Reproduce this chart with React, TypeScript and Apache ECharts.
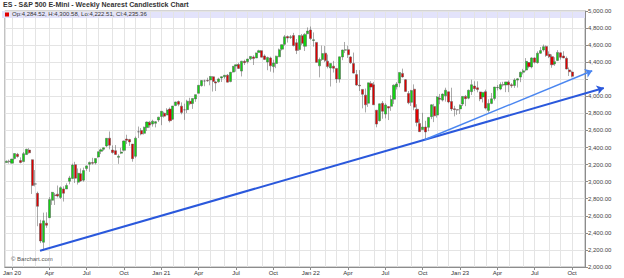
import React, { useEffect, useRef } from 'react';
import * as echarts from 'echarts';

// First weekly bar (Monday of the week) and number of empty future weeks on the axis
const firstWeek = '2019-12-23';
const emptyWeeksAfter = 4;

// Weekly bars: [open, high, low, close]
const ohlc2020 = [
  [3224, 3248, 3222, 3240], [3240, 3258, 3212, 3235], [3217, 3267, 3214, 3265], [3271, 3330, 3262, 3330],
  [3321, 3337, 3281, 3295], [3248, 3285, 3214, 3225], [3235, 3347, 3233, 3328], [3318, 3385, 3315, 3380],
  [3370, 3393, 3328, 3338], [3257, 3260, 2856, 2954], [2974, 3136, 2945, 2972], [2863, 2883, 2478, 2711],
  [2509, 2553, 2280, 2305], [2290, 2637, 2191, 2541], [2514, 2641, 2459, 2489], [2578, 2819, 2574, 2790],
  [2782, 2880, 2728, 2875], [2845, 2868, 2727, 2837], [2854, 2955, 2815, 2831], [2815, 2945, 2798, 2930],
  [2915, 2945, 2767, 2864], [2914, 2981, 2914, 2955], [3005, 3068, 2969, 3044], [3038, 3211, 3032, 3194],
  [3199, 3233, 2984, 3041], [2994, 3155, 2966, 3098], [3094, 3155, 2999, 3009], [3018, 3165, 3000, 3130],
  [3155, 3190, 3128, 3185], [3205, 3236, 3115, 3225], [3224, 3280, 3200, 3216], [3219, 3272, 3202, 3271],
  [3289, 3352, 3280, 3351], [3356, 3388, 3323, 3373], [3380, 3399, 3363, 3397], [3419, 3509, 3404, 3508],
  [3509, 3588, 3379, 3427], [3371, 3425, 3329, 3341], [3363, 3429, 3313, 3319], [3285, 3320, 3209, 3298],
  [3334, 3397, 3323, 3348], [3367, 3482, 3354, 3477], [3500, 3550, 3441, 3484], [3494, 3502, 3419, 3465],
  [3441, 3441, 3234, 3270], [3297, 3529, 3280, 3509], [3584, 3646, 3511, 3585], [3601, 3628, 3543, 3558],
  [3566, 3645, 3552, 3638], [3634, 3705, 3594, 3699], [3694, 3712, 3633, 3663], [3675, 3726, 3645, 3709],
  [3684, 3711, 3636, 3703],
];

const ohlc2021 = [
  [3723, 3760, 3700, 3756], [3764, 3827, 3662, 3825], [3803, 3820, 3751, 3768], [3781, 3861, 3779, 3841],
  [3851, 3870, 3694, 3714], [3732, 3887, 3725, 3887], [3892, 3937, 3885, 3934], [3939, 3951, 3884, 3907],
  [3885, 3929, 3789, 3811], [3842, 3914, 3724, 3842], [3844, 3960, 3805, 3943], [3942, 3983, 3894, 3913],
  [3917, 3978, 3853, 3975], [3970, 4021, 3936, 4020], [4035, 4130, 4035, 4129], [4125, 4191, 4114, 4185],
  [4180, 4195, 4118, 4180], [4185, 4218, 4170, 4181], [4192, 4238, 4129, 4233], [4229, 4237, 4056, 4174],
  [4169, 4183, 4062, 4156], [4170, 4218, 4161, 4204], [4216, 4234, 4168, 4230], [4229, 4249, 4208, 4247],
  [4248, 4262, 4164, 4166], [4173, 4287, 4165, 4281], [4284, 4356, 4279, 4352], [4356, 4372, 4289, 4370],
  [4372, 4393, 4321, 4327], [4296, 4415, 4233, 4412], [4410, 4429, 4367, 4395], [4406, 4440, 4385, 4437],
  [4439, 4470, 4424, 4468], [4462, 4480, 4367, 4442], [4450, 4513, 4450, 4509], [4515, 4546, 4513, 4535],
  [4535, 4536, 4457, 4459], [4474, 4492, 4427, 4433], [4402, 4466, 4306, 4455], [4450, 4465, 4289, 4357],
  [4349, 4429, 4278, 4391], [4385, 4476, 4330, 4471], [4463, 4560, 4460, 4545], [4553, 4608, 4537, 4605],
  [4610, 4719, 4595, 4697], [4701, 4714, 4630, 4683], [4689, 4718, 4672, 4698], [4712, 4744, 4585, 4595],
  [4628, 4672, 4495, 4538], [4548, 4713, 4532, 4712], [4710, 4731, 4600, 4621], [4587, 4740, 4531, 4726],
];

const ohlc2022 = [
  [4733, 4808, 4733, 4766], [4778, 4818, 4662, 4677], [4655, 4749, 4582, 4663], [4632, 4632, 4395, 4398],
  [4357, 4454, 4222, 4432], [4432, 4595, 4414, 4501], [4506, 4590, 4401, 4419], [4412, 4490, 4327, 4349],
  [4332, 4386, 4115, 4385], [4354, 4416, 4279, 4329], [4327, 4327, 4157, 4204], [4202, 4465, 4161, 4463],
  [4462, 4546, 4424, 4543], [4541, 4637, 4507, 4546], [4547, 4593, 4450, 4488], [4462, 4471, 4381, 4393],
  [4385, 4513, 4267, 4272], [4255, 4309, 4124, 4132], [4130, 4308, 4063, 4123], [4081, 4082, 3859, 4024],
  [4014, 4091, 3811, 3901], [3919, 4159, 3876, 4158], [4151, 4178, 4073, 4109], [4135, 4169, 3900, 3901],
  [3838, 3838, 3637, 3675], [3715, 3914, 3705, 3912], [3920, 3946, 3738, 3825], [3792, 3919, 3742, 3899],
  [3880, 3880, 3722, 3863], [3883, 4013, 3830, 3962], [3966, 4140, 3911, 4130], [4112, 4167, 4080, 4145],
  [4155, 4280, 4107, 4280], [4269, 4325, 4219, 4228], [4195, 4203, 4057, 4058], [4034, 4062, 3907, 3924],
  [3930, 4076, 3887, 4067], [4084, 4140, 3837, 3873], [3849, 3907, 3648, 3693], [3682, 3736, 3584, 3586],
  [3610, 3807, 3604, 3640], [3640, 3713, 3491, 3583], [3637, 3758, 3591, 3753], [3762, 3906, 3733, 3901],
  [3882, 3912, 3698, 3771], [3780, 4001, 3751, 3993], [3977, 4028, 3907, 3965], [3956, 4034, 3940, 4026],
  [4006, 4101, 3938, 4072], [4053, 4053, 3919, 3934], [3939, 4101, 3828, 3852], [3854, 3889, 3765, 3845],
];

const ohlc2023 = [
  [3843, 3846, 3783, 3840], [3853, 3906, 3794, 3895], [3910, 4003, 3887, 3999], [3999, 4016, 3885, 3973],
  [3979, 4079, 3966, 4071], [4055, 4195, 4015, 4136], [4120, 4176, 4061, 4090], [4100, 4176, 4047, 4079],
  [4052, 4053, 3943, 3970], [3993, 4049, 3928, 4046], [4055, 4079, 3847, 3862], [3835, 3966, 3809, 3917],
  [3917, 4039, 3908, 3971], [3975, 4110, 3951, 4109], [4102, 4133, 4069, 4105], [4085, 4164, 4072, 4138],
  [4137, 4170, 4114, 4133], [4134, 4170, 4049, 4169], [4166, 4186, 4049, 4136], [4136, 4155, 4099, 4124],
  [4127, 4212, 4099, 4192], [4190, 4212, 4103, 4205], [4226, 4290, 4166, 4282], [4282, 4322, 4257, 4299],
  [4308, 4448, 4293, 4410], [4396, 4401, 4328, 4348], [4345, 4458, 4328, 4450], [4450, 4457, 4385, 4399],
  [4395, 4527, 4383, 4505], [4505, 4578, 4497, 4536], [4543, 4607, 4524, 4582], [4585, 4595, 4463, 4478],
  [4492, 4527, 4448, 4464], [4465, 4491, 4335, 4370], [4380, 4458, 4357, 4406], [4421, 4542, 4413, 4515],
  [4510, 4514, 4430, 4457], [4473, 4528, 4448, 4450], [4445, 4466, 4316, 4320], [4310, 4338, 4238, 4288],
  [4284.52, 4300.58, 4222.51, 4235.36],
];

// Y axis scale
const yMin = 2000;
const yMax = 5000;
const yStep = 200;

// Trend lines: [week (Monday), price] start and end
const trendLines = [
  { from: ['2020-03-23', 2191], to: ['2023-12-18', 4097], color: '#2a58dc', width: 2 },
  { from: ['2022-10-10', 3491], to: ['2023-11-20', 4300], color: '#4a86f0', width: 1.4 },
];

const title = 'ES - S&P 500 E-Mini - Weekly Nearest Candlestick Chart';
const credit = '© Barchart.com';
const monthNames = ['Jan', 'Feb', 'Mar', 'Apr', 'May', 'Jun', 'Jul', 'Aug', 'Sep', 'Oct', 'Nov', 'Dec'];

const DAY = 86400000;
const fmt = (v: number) => v.toLocaleString('en-US', { minimumFractionDigits: 2, maximumFractionDigits: 2 });

export default function App() {
  const ref = useRef<HTMLDivElement>(null);

  useEffect(() => {
    document.body.style.margin = '0';
    if (!ref.current) return;
    const chart = echarts.init(ref.current, undefined, { renderer: 'svg' });

    const rows = [...ohlc2020, ...ohlc2021, ...ohlc2022, ...ohlc2023];
    const t0 = Date.parse(firstWeek + 'T00:00:00Z');
    const N = rows.length + emptyWeeksAfter;
    const cats: string[] = [];
    for (let i = 0; i < N; i++) cats.push(new Date(t0 + i * 7 * DAY).toISOString().slice(0, 10));
    const weekIdx = (d: string) => Math.round((Date.parse(d + 'T00:00:00Z') - t0) / (7 * DAY));

    const dayOf = (s: string) => Number(s.slice(8, 10));
    const monOf = (s: string) => Number(s.slice(5, 7)) - 1;
    const isMonth = cats.map((c) => dayOf(c) <= 7);
    const isQuarter = cats.map((c, i) => isMonth[i] && monOf(c) % 3 === 0);
    const labelOf = (c: string) => {
      const m = monOf(c);
      return m === 0 ? 'Jan ' + c.slice(2, 4) : monthNames[m];
    };

    const last = rows[rows.length - 1];
    const W = 624;
    const gridLeft = 1;
    const gridRight = 39;
    const grid2Right = 10;
    const W1 = W - gridLeft - gridRight;
    const W2 = W - gridLeft - grid2Right;
    const x2Max = -0.5 + (N * W2) / W1;

    const font = '"Liberation Sans", Arial, sans-serif';

    const trendSeries = trendLines.map((t) => ({
      type: 'line',
      xAxisIndex: 1,
      yAxisIndex: 1,
      data: [],
      silent: true,
      markLine: {
        silent: true,
        symbol: ['none', 'arrow'],
        symbolSize: 7,
        label: { show: false },
        lineStyle: { color: t.color, width: t.width, type: 'solid' },
        emphasis: { disabled: true },
        data: [[
          { coord: [weekIdx(t.from[0] as string), t.from[1]] },
          { coord: [weekIdx(t.to[0] as string), t.to[1]] },
        ]],
      },
    }));

    const option: any = {
      animation: false,
      backgroundColor: '#ffffff',
      textStyle: { fontFamily: font },
      grid: [
        { left: gridLeft, right: gridRight, top: 11, bottom: 11, show: true, borderColor: '#a8a8a8', borderWidth: 1, backgroundColor: 'transparent' },
        { left: gridLeft, right: grid2Right, top: 11, bottom: 11, show: false },
      ],
      xAxis: [
        {
          type: 'category',
          gridIndex: 0,
          data: cats,
          boundaryGap: true,
          axisLine: { show: true, lineStyle: { color: '#8c8c8c' } },
          axisTick: { show: true, alignWithLabel: true, interval: (i: number) => isQuarter[i], length: 3, lineStyle: { color: '#8c8c8c' } },
          axisLabel: {
            interval: (i: number) => isQuarter[i],
            formatter: (v: string) => labelOf(v),
            fontSize: 6,
            color: '#333',
            margin: 3,
            fontFamily: font,
          },
          splitLine: { show: true, alignWithLabel: true, interval: (i: number) => isMonth[i], lineStyle: { color: '#e4e4e4', width: 1 } },
        },
        { type: 'value', gridIndex: 1, min: -0.5, max: x2Max, show: false },
      ],
      yAxis: [
        {
          type: 'value',
          gridIndex: 0,
          position: 'right',
          min: yMin,
          max: yMax,
          interval: yStep,
          axisLine: { show: true, lineStyle: { color: '#8c8c8c' } },
          axisTick: { show: true, length: 3, lineStyle: { color: '#8c8c8c' } },
          axisLabel: {
            // the last-price box covers the tick label nearest to it
            formatter: (v: number) => (Math.abs(v - last[3]) < yStep / 2 ? '' : fmt(v)),
            fontSize: 6,
            color: '#444',
            margin: 3,
            fontFamily: font,
          },
          splitLine: { show: true, lineStyle: { color: '#e4e4e4', width: 1 } },
        },
        { type: 'value', gridIndex: 1, min: yMin, max: yMax, show: false },
      ],
      graphic: [
        { type: 'text', left: 3, top: 1, style: { text: title, font: `bold 7px ${font}`, fill: '#333' } },
        { type: 'rect', shape: { x: 2, y: 11, width: W1 - 1, height: 7 }, style: { fill: '#e3e3fb' }, z: 0 },
        { type: 'rect', shape: { x: 5, y: 12.5, width: 4, height: 4 }, style: { fill: '#e00000' }, z: 5 },
        {
          type: 'text', x: 12, y: 11.2, z: 5,
          style: { text: `Op:${fmt(last[0])}, H:${fmt(last[1])}, Lo:${fmt(last[2])}, Cl:${fmt(last[3])}`, font: `6px ${font}`, fill: '#333' },
        },
        { type: 'text', x: 11, y: 256, z: 5, style: { text: credit, font: `6px ${font}`, fill: '#555' } },
      ],
      series: [
        {
          type: 'candlestick',
          xAxisIndex: 0,
          yAxisIndex: 0,
          barWidth: '90%',
          data: rows.map((r) => [r[0], r[3], r[2], r[1]]),
          itemStyle: {
            color: '#12d212',
            color0: '#e00000',
            borderColor: '#555555',
            borderColor0: '#555555',
            borderWidth: 0.5,
          },
          markLine: {
            silent: true,
            symbol: ['none', 'none'],
            lineStyle: { opacity: 0 },
            label: {
              show: true,
              position: 'end',
              distance: 2,
              formatter: () => fmt(last[3]),
              backgroundColor: '#111',
              color: '#fff',
              fontSize: 6,
              padding: [1, 2],
              fontFamily: font,
            },
            data: [{ yAxis: last[3] }],
          },
        },
        ...trendSeries,
      ],
    };

    chart.setOption(option);
    return () => chart.dispose();
  }, []);

  return <div ref={ref} style={{ width: 624, height: 278 }} />;
}
